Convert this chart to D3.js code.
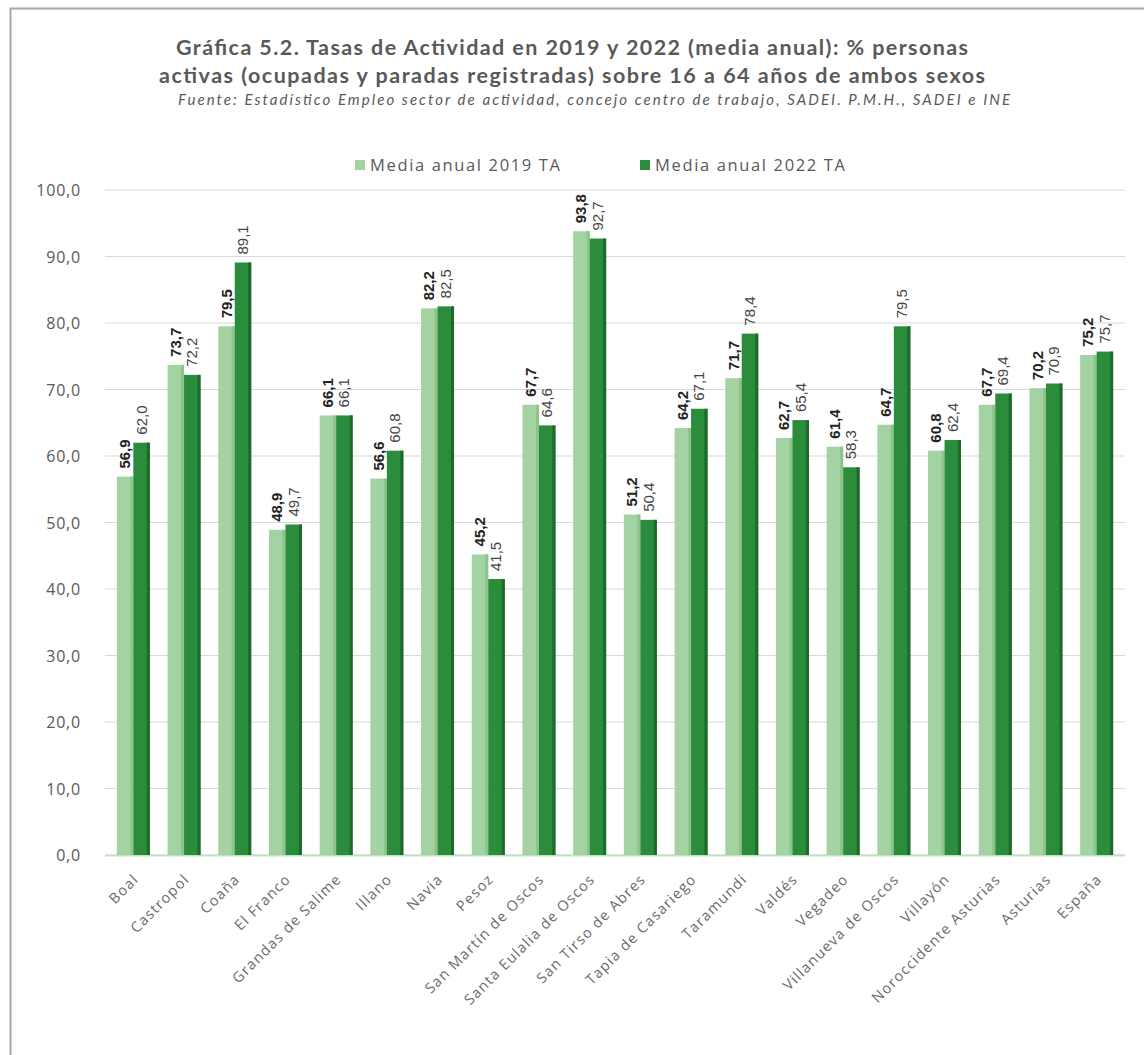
<!DOCTYPE html>
<html>
<head>
<meta charset="utf-8">
<script src="https://cdn.jsdelivr.net/npm/d3@7"></script>
<style>
  html, body { margin: 0; padding: 0; background: #fff; }
  svg { display: block; }
</style>
</head>
<body>
<svg id="chart" width="1144" height="1055"></svg>
<script>
const categories = ["Boal", "Castropol", "Coaña", "El Franco", "Grandas de Salime", "Illano", "Navia", "Pesoz",
  "San Martín de Oscos", "Santa Eulalia de Oscos", "San Tirso de Abres", "Tapia de Casariego", "Taramundi",
  "Valdés", "Vegadeo", "Villanueva de Oscos", "Villayón", "Noroccidente Asturias", "Asturias", "España"];
const values2019 = [56.9, 73.7, 79.5, 48.9, 66.1, 56.6, 82.2, 45.2, 67.7, 93.8, 51.2, 64.2, 71.7, 62.7, 61.4, 64.7, 60.8, 67.7, 70.2, 75.2];
const values2022 = [62.0, 72.2, 89.1, 49.7, 66.1, 60.8, 82.5, 41.5, 64.6, 92.7, 50.4, 67.1, 78.4, 65.4, 58.3, 79.5, 62.4, 69.4, 70.9, 75.7];
const seriesNames = ["Media anual 2019 TA", "Media anual 2022 TA"];
const yTicks = [0, 10, 20, 30, 40, 50, 60, 70, 80, 90, 100];
const titleLines = ["Gráfica 5.2. Tasas de Actividad en 2019 y 2022 (media anual): % personas",
  "activas (ocupadas y paradas registradas) sobre 16 a 64 años de ambos sexos"];
const subtitle = "Fuente: Estadístico Empleo sector de actividad, concejo centro de trabajo, SADEI. P.M.H., SADEI e INE";

const colors = ["#a3d3a3", "#2b8c3c"];
const sideColors = ["#8cc48c", "#1d6a2a"];

const svg = d3.select("#chart");
const fmt = v => v.toFixed(1).replace(".", ",");

// outer border
svg.append("rect").attr("x", 10.5).attr("y", 8.5).attr("width", 1150).attr("height", 1060)
  .attr("fill", "#fff").attr("stroke", "#a6a6a6").attr("stroke-width", 2);

// titles
const titleWidths = [792, 826];
svg.selectAll("text.title").data(titleLines).enter().append("text")
  .attr("class", "title")
  .attr("x", 572).attr("y", (d, i) => 55 + i * 28)
  .attr("text-anchor", "middle")
  .attr("font-family", "Lato, 'Open Sans', sans-serif")
  .attr("font-weight", "bold").attr("font-size", 21.5)
  .attr("textLength", (d, i) => titleWidths[i]).attr("lengthAdjust", "spacing")
  .attr("fill", "#595959").text(d => d);
svg.append("text").attr("x", 594).attr("y", 105).attr("text-anchor", "middle")
  .attr("font-family", "Lato, 'Open Sans', sans-serif").attr("font-style", "italic")
  .attr("font-size", 15).attr("textLength", 832).attr("lengthAdjust", "spacing")
  .attr("fill", "#595959").text(subtitle);

// scales
const x = d3.scaleBand().domain(categories).range([108, 1122]).paddingInner(0.35).paddingOuter(0.175);
const x1 = d3.scaleBand().domain([0, 1]).range([0, x.bandwidth()]);
const y = d3.scaleLinear().domain([0, 100]).range([855, 190]);

// gridlines
svg.append("g").selectAll("line").data(yTicks).enter().append("line")
  .attr("x1", 105).attr("x2", 1125)
  .attr("y1", d => y(d)).attr("y2", d => y(d))
  .attr("stroke", "#d9d9d9").attr("stroke-width", 1.2);

// y axis
const yAxis = d3.axisLeft(y).tickValues(yTicks).tickFormat(fmt).tickSize(0).tickPadding(0);
const gy = svg.append("g").attr("transform", "translate(81,0)").call(yAxis);
gy.select(".domain").remove();
gy.selectAll("text").attr("font-family", "'Open Sans', sans-serif").attr("font-size", 16)
  .attr("letter-spacing", "0.8px")
  .attr("fill", "#595959").attr("dy", "0.35em");

// x axis labels
const xAxis = d3.axisBottom(x).tickSize(0).tickPadding(0);
const gx = svg.append("g").attr("transform", "translate(0,874)").call(xAxis);
gx.select(".domain").remove();
gx.selectAll("text").attr("font-family", "'Open Sans', sans-serif").attr("font-size", 14.5)
  .attr("letter-spacing", "1.2px")
  .attr("fill", "#6b6b6b").attr("text-anchor", "end")
  .attr("transform", "rotate(-45)").attr("dx", "0em").attr("dy", "0.6em");

// base line
svg.append("line").attr("x1", 105).attr("x2", 1125).attr("y1", y(0) + 0.5).attr("y2", y(0) + 0.5)
  .attr("stroke", "#bfe3bf").attr("stroke-width", 2);

// bars
const series = [values2019, values2022];
const groups = svg.append("g").selectAll("g").data(categories).enter().append("g")
  .attr("transform", d => `translate(${x(d)},0)`);

series.forEach((vals, s) => {
  groups.append("rect")
    .attr("x", x1(s)).attr("width", x1.bandwidth())
    .attr("y", (d, i) => y(vals[i])).attr("height", (d, i) => y(0) - y(vals[i]))
    .attr("fill", colors[s]);
  groups.append("rect")
    .attr("x", x1(s) + x1.bandwidth() - 3).attr("width", 3)
    .attr("y", (d, i) => y(vals[i])).attr("height", (d, i) => y(0) - y(vals[i]))
    .attr("fill", sideColors[s]);
  groups.append("text")
    .attr("transform", (d, i) => `translate(${x1(s) + x1.bandwidth() / 2 + 5},${y(vals[i]) - 8}) rotate(-90)`)
    .attr("font-family", "'Liberation Sans', Arial, sans-serif")
    .attr("font-size", 15)
    .attr("font-weight", s === 0 ? "bold" : "normal")
    .attr("fill", s === 0 ? "#222" : "#444")
    .text((d, i) => fmt(vals[i]));
});

// legend
const legendItems = [{ name: seriesNames[0], x: 355 }, { name: seriesNames[1], x: 640 }];
const lg = svg.append("g").selectAll("g").data(legendItems).enter().append("g")
  .attr("transform", d => `translate(${d.x},165)`);
lg.append("rect").attr("x", 0).attr("y", -5).attr("width", 10).attr("height", 10)
  .attr("fill", (d, i) => colors[i]);
lg.append("text").attr("x", 15).attr("y", 0).attr("dy", "0.35em")
  .attr("font-family", "'Open Sans', sans-serif").attr("font-size", 16.5).attr("fill", "#595959")
  .attr("textLength", 190).attr("lengthAdjust", "spacing")
  .text(d => d.name);
</script>
</body>
</html>
